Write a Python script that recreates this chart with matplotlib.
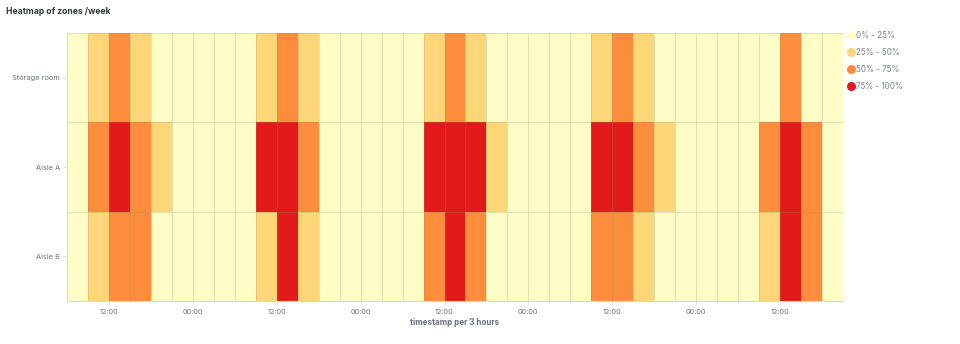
import numpy as np
import pandas as pd
import matplotlib
matplotlib.use("Agg")
import matplotlib.pyplot as plt
import matplotlib.dates as mdates
from matplotlib.colors import ListedColormap, BoundaryNorm
from matplotlib.lines import Line2D

# --- data: occupancy (%) per zone, 3-hour buckets starting 06:00 ---
zones = ["Storage room", "Aisle A", "Aisle B"]
start_time = "2021-01-04 06:00"
n_buckets = 37

storage_room = [10, 35, 60, 35, 10, 10, 10, 10, 10, 35, 60, 35, 10, 10, 10, 10, 10, 35, 60,
                35, 10, 10, 10, 10, 10, 35, 60, 35, 10, 10, 10, 10, 10, 10, 60, 10, 10]
aisle_a = [10, 60, 85, 60, 35, 10, 10, 10, 10, 85, 85, 60, 10, 10, 10, 10, 10, 85, 85,
           85, 35, 10, 10, 10, 10, 85, 85, 60, 35, 10, 10, 10, 10, 60, 85, 60, 10]
aisle_b = [10, 35, 60, 60, 10, 10, 10, 10, 10, 35, 85, 35, 10, 10, 10, 10, 10, 60, 85,
           60, 10, 10, 10, 10, 10, 60, 60, 35, 10, 10, 10, 10, 10, 35, 85, 60, 10]

bins = [0, 25, 50, 75, 100]
bin_labels = ["0% - 25%", "25% - 50%", "50% - 75%", "75% - 100%"]
bin_colors = ["#fffdc6", "#fed677", "#fd8d3c", "#e31a1c"]

plt.rcParams["font.family"] = ["Inter", "DejaVu Sans"]

# --- figure ---
fig = plt.figure(figsize=(9.6, 3.44), dpi=100)
W, H = 960, 344
ax = fig.add_axes([67 / W, 1 - 301 / H, (843 - 67) / W, (301 - 33) / H])

edges = pd.date_range(start_time, periods=n_buckets + 1, freq="3h")
x_edges = mdates.date2num(edges.to_pydatetime())
y_edges = np.arange(len(zones) + 1)

Z = np.array([storage_room, aisle_a, aisle_b], dtype=float)
cmap = ListedColormap(bin_colors)
norm = BoundaryNorm(bins, cmap.N)
ax.pcolormesh(x_edges, y_edges, Z, cmap=cmap, norm=norm,
              edgecolors=(0.55, 0.55, 0.45, 0.25), linewidth=0.6)

ax.set_xlim(x_edges[0], x_edges[-1])
ax.set_ylim(len(zones), 0)

ax.set_yticks(np.arange(len(zones)) + 0.5)
ax.set_yticklabels(zones)
ax.xaxis.set_major_locator(mdates.HourLocator(byhour=[0, 12]))
ax.xaxis.set_major_formatter(mdates.DateFormatter("%H:%M"))

for s in ["top", "right", "left"]:
    ax.spines[s].set_visible(False)
ax.spines["bottom"].set_color("#d3dae6")
ax.spines["bottom"].set_linewidth(0.8)
ax.tick_params(axis="both", colors="#d3dae6", labelcolor="#69707d",
               labelsize=5.3, length=3, width=0.6)
ax.tick_params(axis="x", pad=3)
ax.tick_params(axis="y", pad=2)

ax.set_xlabel("timestamp per 3 hours", fontsize=5.8, fontweight="bold",
              color="#69707d", labelpad=2)

fig.text(6 / W, 1 - 12 / H, "Heatmap of zones /week", fontsize=6.2,
         fontweight="bold", color="#343741", va="center", ha="left")

# legend
handles = [Line2D([0], [0], marker="o", linestyle="", markersize=5.5,
                  markerfacecolor=c, markeredgecolor=c) for c in bin_colors]
fig.legend(handles, bin_labels, loc="upper left",
           bbox_to_anchor=(843 / W, 1 - 27.5 / H), frameon=False,
           fontsize=5.8, labelcolor="#7d828c", handletextpad=0.15,
           labelspacing=1.0, borderaxespad=0, handlelength=1.1)

fig.savefig("out.png", dpi=100)
